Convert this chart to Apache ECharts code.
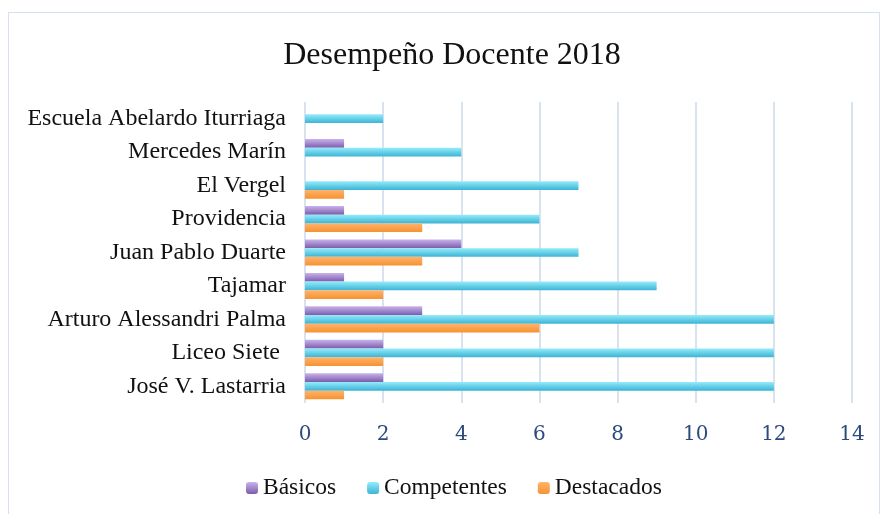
<!DOCTYPE html>
<html>
<head>
<meta charset="utf-8">
<script src="https://cdn.jsdelivr.net/npm/echarts@6/dist/echarts.min.js"></script>
<style>
  html, body { margin: 0; padding: 0; background: #fff; }
  #frame { position: absolute; left: 8px; top: 12px; width: 872px; height: 510px;
           border: 1px solid #d6e0ef; box-sizing: border-box; }
  #main { position: absolute; left: 0; top: 0; width: 882px; height: 514px; }
</style>
</head>
<body>
<div id="frame"></div>
<div id="main"></div>
<script>
// categorias de abajo hacia arriba
var categories = ['José V. Lastarria', 'Liceo Siete ', 'Arturo Alessandri Palma', 'Tajamar',
    'Juan Pablo Duarte', 'Providencia', 'El Vergel', 'Mercedes Marín', 'Escuela Abelardo Iturriaga'];
var basicos = [2, 2, 3, 1, 4, 1, 0, 1, 0];
var competentes = [12, 12, 12, 9, 7, 6, 7, 4, 2];
var destacados = [1, 2, 6, 2, 3, 3, 1, 0, 0];
var xTicks = [0, 2, 4, 6, 8, 10, 12, 14];

function grad(top, bottom) {
    return new echarts.graphic.LinearGradient(0, 0, 0, 1, [
        { offset: 0, color: top },
        { offset: 1, color: bottom }
    ]);
}

var chart = echarts.init(document.getElementById('main'));
var serif = '"Liberation Serif", "DejaVu Serif", serif';
var option = {
    animation: false,
    title: {
        text: 'Desempeño Docente 2018',
        left: 447,
        textAlign: 'center',
        top: 35,
        textStyle: { fontFamily: serif, fontSize: 32, fontWeight: 'normal', color: '#111' }
    },
    grid: { left: 305, right: 30, top: 102, bottom: 111, containLabel: false },
    legend: {
        bottom: 9,
        left: 241,
        itemWidth: 12,
        itemHeight: 12,
        itemGap: 31,
        textStyle: { fontFamily: serif, fontSize: 23.5, color: '#111' },
        data: ['Básicos', 'Competentes', 'Destacados']
    },
    xAxis: {
        type: 'value',
        min: 0,
        max: 14,
        interval: 2,
        axisLine: { show: false },
        axisTick: { show: false },
        splitLine: { lineStyle: { color: '#d9e3f0', width: 2 } },
        axisLabel: {
            margin: 22,
            fontFamily: '"DejaVu Serif", serif',
            fontSize: 20,
            color: '#2c4b7c',
            formatter: function (v) { return xTicks.indexOf(v) >= 0 ? String(v) : ''; }
        }
    },
    yAxis: {
        type: 'category',
        data: categories,
        axisLine: { show: false },
        axisTick: { show: false },
        axisLabel: { margin: 19, fontFamily: serif, fontSize: 24, color: '#111' }
    },
    series: [{
        name: 'Básicos',
        type: 'bar',
        barGap: '0%',
        barCategoryGap: '22%',
        itemStyle: { color: grad('#c8b3ec', '#7d5cab') },
        data: basicos
    }, {
        name: 'Competentes',
        type: 'bar',
        barGap: '0%',
        barCategoryGap: '22%',
        itemStyle: { color: grad('#93ecfc', '#3db3d3') },
        data: competentes
    }, {
        name: 'Destacados',
        type: 'bar',
        barGap: '0%',
        barCategoryGap: '22%',
        itemStyle: { color: grad('#ffb36d', '#f7922f') },
        data: destacados
    }]
};
chart.setOption(option);
</script>
</body>
</html>
